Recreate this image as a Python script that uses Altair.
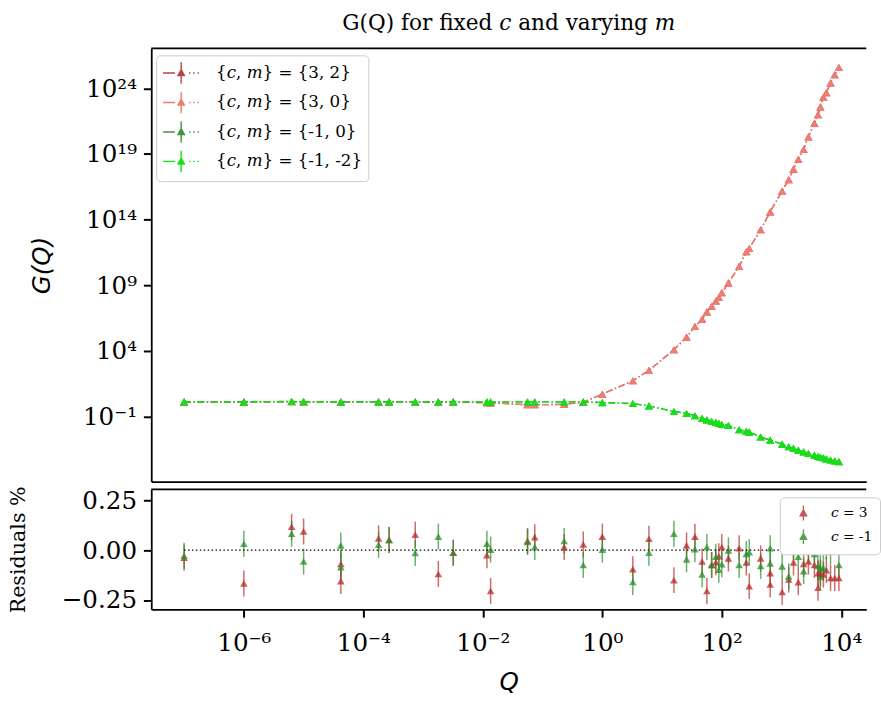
import math

import altair as alt
import pandas as pd

# Momentum-transfer grid shared by every curve
Q = [1e-7, 1e-6, 6.3e-6, 1e-5, 4.2e-5, 1.8e-4, 2.7e-4, 7.4e-4, 1.8e-3, 3.2e-3,
     1.17e-2, 1.35e-2, 5.6e-2, 7.4e-2, 0.23, 0.48, 1.0, 3.24, 6.03, 15.8,
     25.7, 35.5, 46.8, 56.2, 67.6, 79.4, 89.1, 100, 129, 195,
     257, 288, 447, 646, 1023, 1318, 1585, 1905, 2344, 2818,
     3548, 4074, 4467, 5012, 5623, 6607, 7762, 9120]

# G(Q) for c = 3 (both m values lie on top of each other)
G_C3 = [1.29, 1.29, 1.33, 1.29, 1.26, 1.29, 1.29, 1.29, 1.25, 1.26,
        1.10, 1.08, 0.78, 0.78, 0.82, 1.23, 4.9, 5.2e1, 3.2e2, 1.2e4,
        1.1e5, 7.2e5, 2.6e6, 9.2e6, 2.5e7, 6.2e7, 1.18e8, 2.7e8, 1.5e9, 2.7e10,
        3.5e11, 6.3e11, 1.7e13, 3.9e14, 1.5e16, 1.1e17, 7.0e17, 4.0e18, 2.2e19, 2.0e20,
        2.2e21, 9.9e21, 3.9e22, 2.2e23, 4.7e23, 2.6e24, 1.1e25, 3.9e25]

# G(Q) for c = -1 (both m values lie on top of each other)
G_CM1 = [1.29, 1.29, 1.37, 1.33, 1.29, 1.29, 1.29, 1.29, 1.29, 1.29,
         1.29, 1.29, 1.29, 1.29, 1.29, 1.29, 1.13, 0.96, 0.63, 0.238,
         0.168, 0.113, 0.071, 0.054, 0.043, 0.0355, 0.030, 0.0239, 0.0204, 9.7e-3,
         7.2e-3, 6.4e-3, 2.7e-3, 1.55e-3, 7.7e-4, 4.9e-4, 3.7e-4, 2.7e-4, 2.0e-4, 1.52e-4,
         1.13e-4, 8.7e-5, 8.1e-5, 7.1e-5, 5.8e-5, 4.8e-5, 4.1e-5, 3.6e-5]

SERIES = ["{𝑐, 𝑚} = {3, 2}", "{𝑐, 𝑚} = {3, 0}",
          "{𝑐, 𝑚} = {-1, 0}", "{𝑐, 𝑚} = {-1, -2}"]
SERIES_COLORS = ["#b4424a", "#f07c72", "#3c963c", "#14e014"]

# Residuals in percent, one value per grid point for each c
RES_C3 = [-0.038, -0.167, 0.117, 0.094, -0.069, 0.059, 0.052, 0.078, -0.119, -0.013,
          -0.025, -0.204, 0.046, 0.065, 0.016, 0.029, 0.068, -0.095, 0.057, -0.150,
          0.024, 0.068, -0.057, -0.204, -0.074, -0.060, -0.030, 0.016, -0.041, 0.010,
          -0.062, -0.180, -0.041, -0.115, -0.209, -0.147, -0.062, -0.160, -0.069, -0.057,
          -0.074, -0.188, -0.115, -0.122, -0.100, -0.139, -0.139, -0.139]
RES_CM1 = [-0.028, 0.032, 0.082, -0.057, -0.085, 0.027, 0.050, -0.014, 0.068, -0.013,
           0.032, 0.003, 0.041, 0.016, 0.046, -0.074, 0.003, -0.159, -0.013, 0.082,
           -0.046, 0.005, -0.122, 0.016, -0.074, -0.033, -0.098, -0.070, -0.001, -0.074,
           -0.019, -0.010, -0.079, 0.010, -0.081, -0.131, 0.013, -0.033, -0.105, 0.013,
           -0.019, -0.079, -0.131, -0.090, 0.020, -0.008, 0.050, -0.074]
# second m value where it separates from the first
RES_EXTRA_IDX = [4, 33, 41, 4, 33, 42]
RES_EXTRA = [-0.155, -0.172, -0.115, 0.024, -0.066, -0.090]
RES_EXTRA_C = [0, 0, 0, 1, 1, 1]
RES_ERR = 0.065

C_LABELS = ["𝑐 = 3", "𝑐 = -1"]
C_COLORS = ["#b82c2c", "#2a8f2a"]

G_TICKS = [1e-1, 1e4, 1e9, 1e14, 1e19, 1e24]
Q_TICKS = [1e-6, 1e-4, 1e-2, 1, 1e2, 1e4]
RES_TICKS = [-0.25, 0, 0.25]

# ---------------------------------------------------------------- layout
W = 728
H_TOP = 441
H_BOT = 122
Q_DOMAIN = [10 ** -7.55, 10 ** 4.418]
G_DOMAIN = [10 ** -5.97, 10 ** 27.04]
R_DOMAIN = [-0.296, 0.304]

SERIF = "DejaVu Serif"
SANS = "DejaVu Sans"
TICK_FS = 25


def pow10_expr(ticks):
    sup = str.maketrans("-0123456789", "⁻⁰¹²³⁴⁵⁶⁷⁸⁹")
    parts = []
    for t in ticks:
        e = round(math.log10(t))
        parts.append(f"round(log(datum.value) / LN10) == {e} ? '10{str(e).translate(sup)}'")
    return " : ".join(parts) + " : ''"


def hatched_triangle(cx, apex, base, half, step):
    # solid triangle built from horizontal strokes so a stroke-only symbol looks filled
    out = []
    y = base
    while y >= apex:
        hw = half * (y - apex) / (base - apex)
        out.append(f"M{cx - hw:.3f},{y:.3f}H{cx + hw:.3f}")
        y -= step
    return "".join(out)


# legend handle: dash-dot line, error bar and triangle marker
LEGEND_PATH = ("M-1,0H0.1M1.40,0H1.53M1.80,0H1.93M2.2,0H2.33M0.68,-1V1"
               + hatched_triangle(0.68, -0.42, 0.24, 0.36, 0.08))
RES_LEGEND_PATH = "M1,-0.95V0.95" + hatched_triangle(1, -0.55, 0.35, 0.5, 0.11)

# ---------------------------------------------------------------- data
rows = []
for name, g in zip(SERIES, [G_C3, G_C3, G_CM1, G_CM1]):
    for q, v in zip(Q, g):
        rows.append({"Q": q, "G": v, "series": name})
top_df = pd.DataFrame(rows)

res_rows = []
for ci, res in enumerate([RES_C3, RES_CM1]):
    for q, r in zip(Q, res):
        res_rows.append({"Q": q, "r": r, "c": C_LABELS[ci]})
for i, r, ci in zip(RES_EXTRA_IDX, RES_EXTRA, RES_EXTRA_C):
    res_rows.append({"Q": Q[i], "r": r, "c": C_LABELS[ci]})
res_df = pd.DataFrame(res_rows)
res_df["lo"] = res_df["r"] - RES_ERR
res_df["hi"] = res_df["r"] + RES_ERR

zero_df = pd.DataFrame({"Q": [Q[0], Q[-1]], "r": [0.0, 0.0]})
frame_df = pd.DataFrame({"edge": ["top"]})

# ---------------------------------------------------------------- scales / axes
q_scale = alt.Scale(type="log", domain=Q_DOMAIN, nice=False)
g_scale = alt.Scale(type="log", domain=G_DOMAIN, nice=False)
r_scale = alt.Scale(domain=R_DOMAIN, nice=False, zero=False)

frame = dict(domainColor="black", domainWidth=1.8, grid=False)

x_top = alt.X("Q:Q", scale=q_scale,
              axis=alt.Axis(labels=False, ticks=False, title=None, **frame))

g_axis = alt.Axis(values=G_TICKS, labelExpr=pow10_expr(G_TICKS),
                  labelFont=SERIF, labelFontSize=TICK_FS, labelColor="black",
                  labelPadding=7, tickSize=8, tickWidth=2, tickColor="black",
                  title="G(Q)", titleFont=SANS, titleFontStyle="italic",
                  titleFontSize=25, titleFontWeight="normal", titleColor="black",
                  titlePadding=29, **frame)

color_top = alt.Color("series:N", scale=alt.Scale(domain=SERIES, range=SERIES_COLORS),
                      legend=alt.Legend(orient="none", legendX=5, legendY=7, title=None,
                                        symbolType=LEGEND_PATH, symbolSize=484,
                                        symbolStrokeWidth=1.4, symbolDash=[1, 0],
                                        labelFont=SERIF, labelFontSize=17, labelColor="black",
                                        labelOffset=31, rowPadding=2, padding=6,
                                        strokeColor="#cccccc",
                                        fillColor="white", cornerRadius=4, labelLimit=300))

lines = alt.Chart(top_df).mark_line(strokeDash=[7, 2.5, 1.5, 2.5], strokeWidth=1.4).encode(
    x=x_top, y=alt.Y("G:Q", scale=g_scale, axis=g_axis), color=color_top)
points = alt.Chart(top_df).mark_point(shape="triangle-up", filled=True, size=70, opacity=1).encode(
    x=alt.X("Q:Q", scale=q_scale), y=alt.Y("G:Q", scale=g_scale),
    color=alt.Color("series:N", scale=alt.Scale(domain=SERIES, range=SERIES_COLORS), legend=None))
# upper edge of the frame
top_edge = alt.Chart(frame_df).mark_rule(color="black", strokeWidth=1.8).encode(
    x=alt.value(0), x2=alt.value(W), y=alt.value(0))

top = alt.layer(lines, points, top_edge).properties(
    width=W, height=H_TOP,
    title=alt.Title("G(Q) for fixed 𝑐 and varying 𝑚", font=SERIF, fontSize=22,
                    fontWeight="normal", color="black", anchor="middle", offset=13))

# ---------------------------------------------------------------- residual panel
q_axis = alt.Axis(values=Q_TICKS, labelExpr=pow10_expr(Q_TICKS),
                  labelFont=SERIF, labelFontSize=TICK_FS, labelColor="black",
                  labelPadding=14, tickSize=8, tickWidth=2, tickColor="black",
                  title="Q", titleFont=SANS, titleFontStyle="italic",
                  titleFontSize=25, titleFontWeight="normal", titleColor="black",
                  titlePadding=15, **frame)
r_axis = alt.Axis(values=RES_TICKS, format=".2f",
                  labelFont=SERIF, labelFontSize=TICK_FS, labelColor="black",
                  labelPadding=7, tickSize=8, tickWidth=2, tickColor="black",
                  title="Residuals %", titleFont=SERIF, titleFontSize=21,
                  titleFontWeight="normal", titleColor="black", titlePadding=33,
                  **frame)

c_scale = alt.Scale(domain=C_LABELS, range=C_COLORS)
err = alt.Chart(res_df).mark_rule(strokeWidth=1.5, opacity=0.7).encode(
    x=alt.X("Q:Q", scale=q_scale, axis=q_axis),
    y=alt.Y("lo:Q", scale=r_scale, axis=r_axis),
    y2="hi:Q",
    color=alt.Color("c:N", scale=c_scale,
                    legend=alt.Legend(orient="none", legendX=640, legendY=8, title=None,
                                      symbolType=RES_LEGEND_PATH, symbolSize=256,
                                      symbolStrokeWidth=1.4, symbolOpacity=0.8,
                                      labelFont=SERIF, labelFontSize=14, labelColor="black",
                                      labelOffset=27, rowPadding=2, padding=7,
                                      strokeColor="#cccccc",
                                      fillColor="white", cornerRadius=4)))
res_pts = alt.Chart(res_df).mark_point(shape="triangle-up", filled=True, size=60, opacity=0.75).encode(
    x=alt.X("Q:Q", scale=q_scale), y=alt.Y("r:Q", scale=r_scale),
    color=alt.Color("c:N", scale=c_scale, legend=None))
zero = alt.Chart(zero_df).mark_line(color="black", strokeWidth=1.3, strokeDash=[1.5, 2.5]).encode(
    x=alt.X("Q:Q", scale=q_scale), y=alt.Y("r:Q", scale=r_scale))
bot_edge = alt.Chart(frame_df).mark_rule(color="black", strokeWidth=1.8).encode(
    x=alt.value(0), x2=alt.value(W), y=alt.value(0))

bottom = alt.layer(err, zero, res_pts, bot_edge).properties(width=W, height=H_BOT)

chart = alt.vconcat(top, bottom, spacing=4).resolve_scale(color="independent").properties(
    padding={"left": 8, "top": 6, "right": 0, "bottom": 0},
    background="white",
).configure_view(strokeWidth=0)

chart.save("out.html", embed_options={"renderer": "svg", "actions": False})
